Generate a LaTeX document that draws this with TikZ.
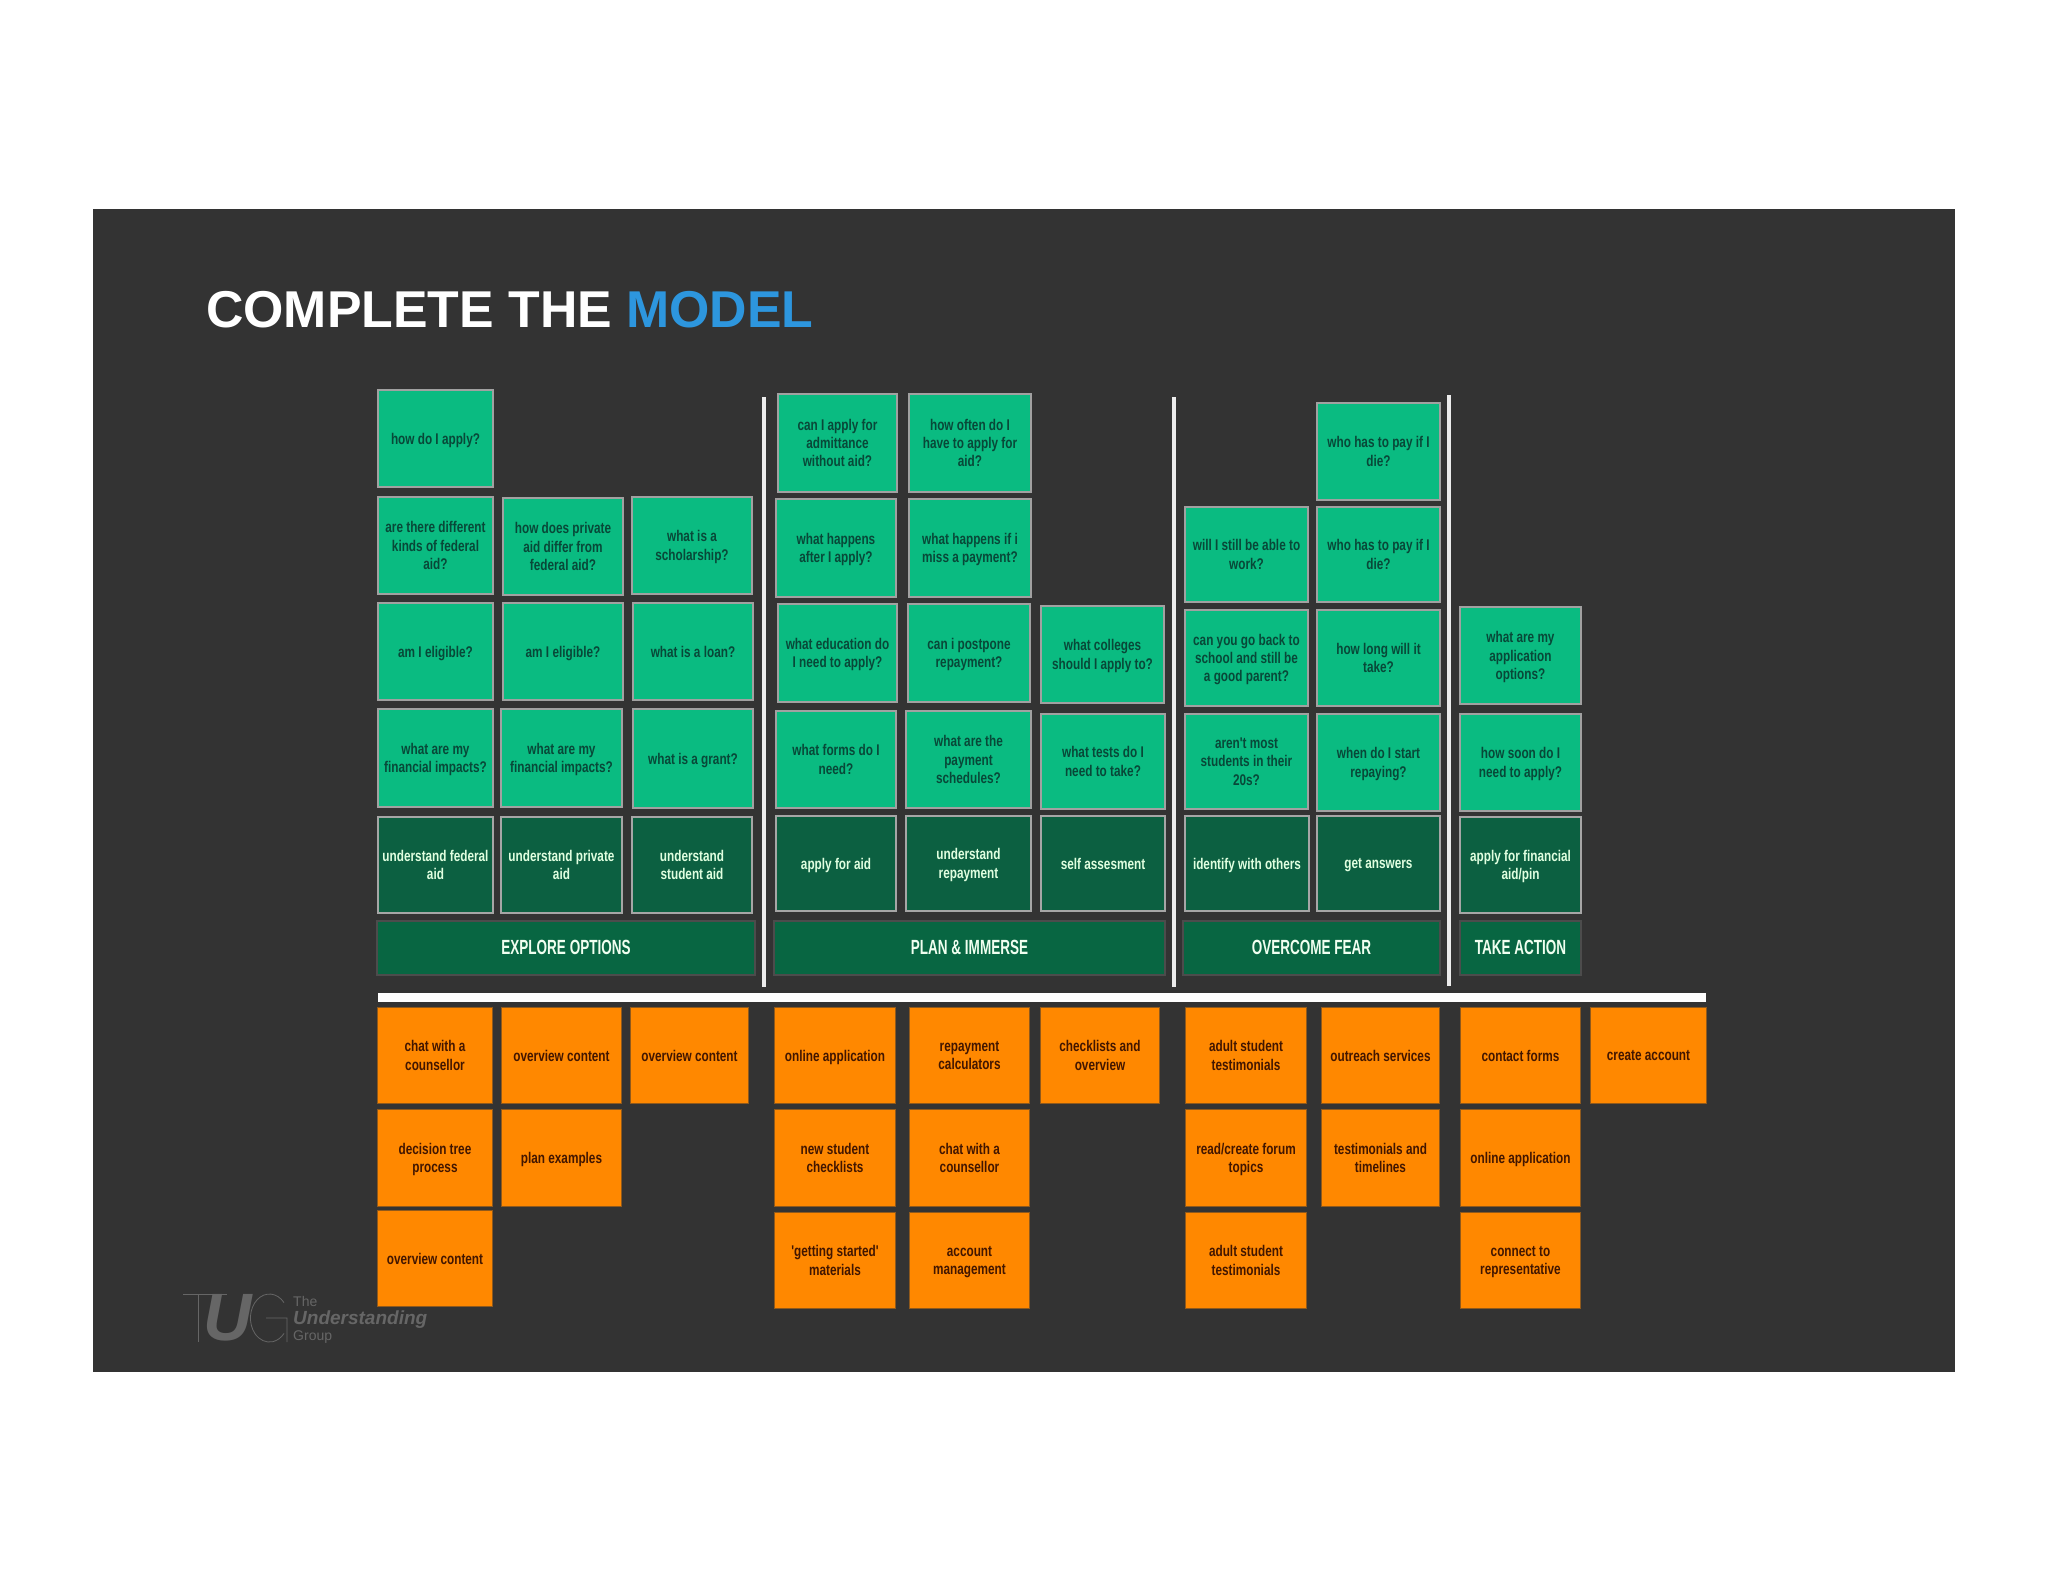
\documentclass[tikz,border=0pt]{standalone}
\usepackage{fontspec}
\setmainfont{Liberation Sans}
\newfontfamily\cardfont[FakeStretch=0.76]{Liberation Sans}
\newfontfamily\bandfont[FakeStretch=0.66]{Liberation Sans}
\usepackage{xcolor}
\usetikzlibrary{positioning,calc}
\definecolor{slatebg}{RGB}{51,51,51}
\definecolor{askgreen}{RGB}{10,187,129}
\definecolor{askink}{RGB}{8,72,56}
\definecolor{goalgreen}{RGB}{12,96,65}
\definecolor{bandgreen}{RGB}{8,102,66}
\definecolor{carrot}{RGB}{255,136,0}
\definecolor{carrotink}{RGB}{66,22,0}
\definecolor{modelblue}{RGB}{45,150,222}
\definecolor{logogrey}{RGB}{102,102,102}

\begin{document}
\begin{tikzpicture}[
    x=1pt, y=-1pt,
    dims/.style 2 args={minimum width=#1pt, minimum height=#2pt},
    card/.style={rectangle, anchor=north west, outer sep=0pt, inner sep=0pt, align=center, text depth=0pt, font=\cardfont\bfseries\fontsize{15.5}{18.3}\selectfont},
    ask/.style={card, draw=black!5!gray!70!white, line width=1.5pt, fill=askgreen, text=askink},
    goal/.style={card, draw=gray!70!white, line width=1.5pt, fill=goalgreen, text=white!88!green},
    band/.style={card, draw=black!70, line width=1.5pt, fill=bandgreen, text=white!94!green, text depth=2pt, font=\bandfont\bfseries\fontsize{20.5}{24}\selectfont},
    help/.style={card, draw=carrot!45!slatebg, line width=1pt, fill=carrot, text=carrotink},
    divider/.style={line width=4pt, draw=white!85!gray},
    logoline/.style={draw=logogrey, line width=0.8pt}
]
    \useasboundingbox (0,0) rectangle (2048,1582);
    \fill[slatebg] (93,209) rectangle (1955,1372);

    \node[anchor=west, inner sep=0pt, font=\bfseries\fontsize{51.8}{60}\selectfont, text=white] (title) at (206,310) {COMPLETE THE \textcolor{modelblue}{MODEL}};

    % explore options
    \node[ask, dims={115}{97}] (howapply) at (378,390) {how do I apply?};
    \node[ask, dims={115}{97}] (kinds) at (378,497) {are there different\\kinds of federal\\aid?};
    \node[ask, dims={120}{97}] (privdiff) at (503,498) {how does private\\aid differ from\\federal aid?};
    \node[ask, dims={120}{97}] (scholar) at (632,497) {what is a\\scholarship?};
    \node[ask, dims={115}{97}] (eligfed) at (378,603) {am I eligible?};
    \node[ask, dims={120}{97}] (eligpriv) at (503,603) {am I eligible?};
    \node[ask, dims={120}{97}] (loan) at (633,603) {what is a loan?};
    \node[ask, dims={115}{98}] (impactfed) at (378,709) {what are my\\financial impacts?};
    \node[ask, dims={121}{98}] (impactpriv) at (501,709) {what are my\\financial impacts?};
    \node[ask, dims={120}{99}] (grant) at (633,709) {what is a grant?};
    \node[goal, dims={115}{96}] (federal) at (378,817) {understand federal\\aid};
    \node[goal, dims={121}{96}] (private) at (501,817) {understand private\\aid};
    \node[goal, dims={120}{96}] (student) at (632,817) {understand\\student aid};
    \node[band, dims={378}{54}] (explore) at (377,921) {EXPLORE OPTIONS};

    % plan and immerse
    \node[ask, dims={119}{98}] (admit) at (778,394) {can I apply for\\admittance\\without aid?};
    \node[ask, dims={122}{98}] (often) at (909,394) {how often do I\\have to apply for\\aid?};
    \node[ask, dims={120}{98}] (after) at (776,499) {what happens\\after I apply?};
    \node[ask, dims={122}{98}] (miss) at (909,499) {what happens if i\\miss a payment?};
    \node[ask, dims={119}{98}] (education) at (778,604) {what education do\\I need to apply?};
    \node[ask, dims={122}{98}] (postpone) at (908,604) {can i postpone\\repayment?};
    \node[ask, dims={123}{97}] (colleges) at (1041,606) {what colleges\\should I apply to?};
    \node[ask, dims={120}{97}] (forms) at (776,711) {what forms do I\\need?};
    \node[ask, dims={125}{97}] (schedules) at (906,711) {what are the\\payment\\schedules?};
    \node[ask, dims={124}{95}] (tests) at (1041,714) {what tests do I\\need to take?};
    \node[goal, dims={120}{95}] (applyaid) at (776,816) {apply for aid};
    \node[goal, dims={125}{95}] (repayment) at (906,816) {understand\\repayment};
    \node[goal, dims={124}{95}] (assess) at (1041,816) {self assesment};
    \node[band, dims={391}{54}] (plan) at (774,921) {PLAN \& IMMERSE};

    % overcome fear
    \node[ask, dims={123}{97}] (whopay) at (1317,403) {who has to pay if I\\die?};
    \node[ask, dims={123}{95}] (work) at (1185,507) {will I still be able to\\work?};
    \node[ask, dims={123}{95}] (whopayb) at (1317,507) {who has to pay if I\\die?};
    \node[ask, dims={123}{96}] (parent) at (1185,610) {can you go back to\\school and still be\\a good parent?};
    \node[ask, dims={123}{96}] (howlong) at (1317,610) {how long will it\\take?};
    \node[ask, dims={123}{95}] (twenties) at (1185,714) {aren't most\\students in their\\20s?};
    \node[ask, dims={123}{97}] (start) at (1317,714) {when do I start\\repaying?};
    \node[goal, dims={124}{95}] (identify) at (1185,816) {identify with others};
    \node[goal, dims={123}{95}] (answers) at (1317,816) {get answers};
    \node[band, dims={257}{54}] (overcome) at (1183,921) {OVERCOME FEAR};

    % take action
    \node[ask, dims={121}{97}] (options) at (1460,607) {what are my\\application\\options?};
    \node[ask, dims={121}{97}] (howsoon) at (1460,714) {how soon do I\\need to apply?};
    \node[goal, dims={121}{96}] (finaid) at (1460,817) {apply for financial\\aid/pin};
    \node[band, dims={121}{54}] (takeaction) at (1460,921) {TAKE ACTION};

    % dividers
    \coordinate (splita) at (764,397);
    \coordinate (splitb) at (1174,397);
    \coordinate (splitc) at (1449,395);
    \draw[divider] (splita) -- (splita |- 0,987);
    \draw[divider] (splitb) -- (splitb |- 0,987);
    \draw[divider] (splitc) -- (splitc |- 0,986);
    \fill[white] (378,993) rectangle (1706,1002);

    % supporting content
    \node[help, dims={115}{96}] (chat) at (377.5,1007.5) {chat with a\\counsellor};
    \node[help, dims={120}{96}] (overviewa) at (501.5,1007.5) {overview content};
    \node[help, dims={118}{96}] (overviewb) at (630.5,1007.5) {overview content};
    \node[help, dims={115}{97}] (tree) at (377.5,1109.5) {decision tree\\process};
    \node[help, dims={120}{97}] (examples) at (501.5,1109.5) {plan examples};
    \node[help, dims={115}{96}] (overviewc) at (377.5,1210.5) {overview content};

    \node[help, dims={121}{96}] (online) at (774.5,1007.5) {online application};
    \node[help, dims={120}{96}] (calculators) at (909.5,1007.5) {repayment\\calculators};
    \node[help, dims={119}{96}] (checklists) at (1040.5,1007.5) {checklists and\\overview};
    \node[help, dims={121}{97}] (newstudent) at (774.5,1109.5) {new student\\checklists};
    \node[help, dims={120}{97}] (chatb) at (909.5,1109.5) {chat with a\\counsellor};
    \node[help, dims={121}{96}] (started) at (774.5,1212.5) {'getting started'\\materials};
    \node[help, dims={120}{96}] (account) at (909.5,1212.5) {account\\management};

    \node[help, dims={121}{96}] (adulta) at (1185.5,1007.5) {adult student\\testimonials};
    \node[help, dims={118}{96}] (outreach) at (1321.5,1007.5) {outreach services};
    \node[help, dims={121}{97}] (forum) at (1185.5,1109.5) {read/create forum\\topics};
    \node[help, dims={118}{97}] (timelines) at (1321.5,1109.5) {testimonials and\\timelines};
    \node[help, dims={121}{96}] (adultb) at (1185.5,1212.5) {adult student\\testimonials};

    \node[help, dims={120}{96}] (contact) at (1460.5,1007.5) {contact forms};
    \node[help, dims={116}{96}] (create) at (1590.5,1007.5) {create account};
    \node[help, dims={120}{97}] (onlineb) at (1460.5,1109.5) {online application};
    \node[help, dims={120}{96}] (connect) at (1460.5,1212.5) {connect to\\representative};

    % logo
    \draw[logoline] (183,1294) -- (227,1294) (198,1294) -- (198,1342);
    \node[anchor=west, inner sep=0pt, text=logogrey, font=\bfseries\itshape\fontsize{67}{67}\selectfont] (logou) at (203,1318) {U};
    \draw[logoline] (287,1342) -- (287,1318) -- (266,1318) (284,1302.6) arc[start angle=-40, end angle=-320, x radius=19, y radius=24];
    \node[anchor=west, inner sep=0pt, text=logogrey, font=\fontsize{14}{14}\selectfont] (logothe) at (293,1301) {The};
    \node[anchor=west, inner sep=0pt, text=logogrey, font=\bfseries\itshape\fontsize{19}{19}\selectfont] (logounder) at (293,1320) {Understanding};
    \node[anchor=west, inner sep=0pt, text=logogrey, font=\fontsize{14}{14}\selectfont] (logogroup) at (293,1337) {Group};
\end{tikzpicture}
\end{document}
